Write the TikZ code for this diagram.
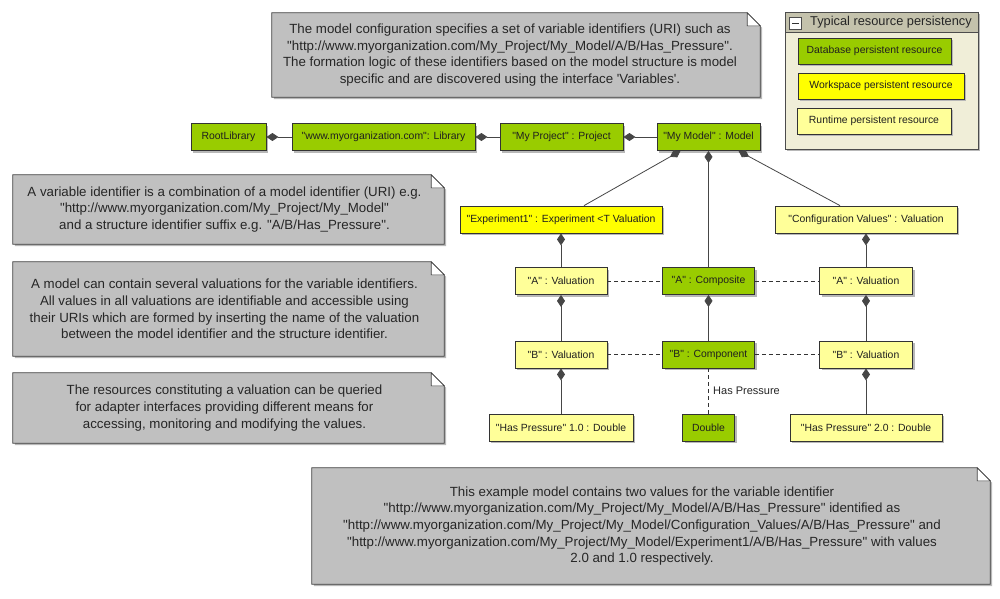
\documentclass[tikz,border=0pt]{standalone}
\usepackage{fontspec}
\newfontfamily\uifont{Liberation Sans}
\usetikzlibrary{arrows.meta,shadows,calc}
\pgfdeclarelayer{bg}
\pgfsetlayers{bg,main}
\definecolor{dbgreen}{RGB}{153,204,0}
\definecolor{wsyellow}{RGB}{255,255,0}
\definecolor{rtyellow}{RGB}{255,255,153}
\definecolor{notegray}{RGB}{192,192,192}
\definecolor{legbody}{RGB}{240,238,216}
\definecolor{leghead}{RGB}{196,194,172}
\definecolor{linegray}{RGB}{70,70,70}
\begin{document}
\begin{tikzpicture}[x=1pt,y=-1pt,
  boxshadow/.style={general shadow={fill=black!28, shadow xshift=2pt, shadow yshift=-2pt}},
  obj/.style={draw=black!80, line width=0.8pt, inner sep=0pt, minimum height=27pt,
    font=\uifont\fontsize{10.4}{12}\selectfont, text=black!88, boxshadow},
  db/.style={obj, fill=dbgreen},
  ws/.style={obj, fill=wsyellow},
  rt/.style={obj, fill=rtyellow},
  notebox/.style={inner sep=0pt, align=center, font=\uifont\fontsize{13.3}{16.6}\selectfont, text=black!85},
  notefold/.style={fill=notegray, draw=black!75, line width=0.8pt, boxshadow},
  comp/.style={draw=linegray, line width=0.8pt, {Diamond[length=12pt,width=8pt]}-},
  dep/.style={draw=black!80, line width=0.7pt, dash pattern=on 4pt off 3pt},
  lbl/.style={font=\uifont\fontsize{11}{13}\selectfont, text=black!85},
]
\useasboundingbox (0,0) rectangle (1000,598);

% ---------- notes (text nodes; frames drawn on the background layer) ----------
\node[notebox, minimum width=488pt, minimum height=84pt] (n0) at (510,55)
  {The model configuration specifies a set of variable identifiers (URI) such as\\
   "http://www.myorganization.com/My\_Project/My\_Model/A/B/Has\_Pressure".\\
   The formation logic of these identifiers based on the model structure is model\\
   specific and are discovered using the interface 'Variables'.};
\node[notebox, minimum width=431pt, minimum height=69pt] (n1) at (224.5,209.5)
  {A variable identifier is a combination of a model identifier (URI) e.g.\\
   "http://www.myorganization.com/My\_Project/My\_Model"\\
   and a structure identifier suffix e.g. "A/B/Has\_Pressure".};
\node[notebox, minimum width=431pt, minimum height=94pt] (n2) at (224.5,309)
  {A model can contain several valuations for the variable identifiers.\\
   All values in all valuations are identifiable and accessible using\\
   their URIs which are formed by inserting the name of the valuation\\
   between the model identifier and the structure identifier.};
\node[notebox, minimum width=431pt, minimum height=70pt] (n3) at (224.5,408)
  {The resources constituting a valuation can be queried\\
   for adapter interfaces providing different means for\\
   accessing, monitoring and modifying the values.};
\node[notebox, minimum width=678pt, minimum height=116pt] (n4) at (642,526)
  {This example model contains two values for the variable identifier\\
   "http://www.myorganization.com/My\_Project/My\_Model/A/B/Has\_Pressure" identified as\\
   "http://www.myorganization.com/My\_Project/My\_Model/Configuration\_Values/A/B/Has\_Pressure" and\\
   "http://www.myorganization.com/My\_Project/My\_Model/Experiment1/A/B/Has\_Pressure" with values\\
   2.0 and 1.0 respectively.};
\begin{pgfonlayer}{bg}
\fill[white] (0,0) rectangle (1000,598);
\foreach \n/\d in {n0/6pt,n1/4pt,n2/4pt,n3/4pt,n4/9pt}{
  \path[notefold] ([xshift=\d]\n.north west) -- ([xshift=\d-13pt]\n.north east)
     -- ([xshift=\d,yshift=-13pt]\n.north east)
     -- ([xshift=\d]\n.south east) -- ([xshift=\d]\n.south west) -- cycle;
  \filldraw[fill=white, draw=black!75, line width=0.6pt] ([xshift=\d-13pt]\n.north east)
     -- ([xshift=\d-13pt,yshift=-13pt]\n.north east) -- ([xshift=\d,yshift=-13pt]\n.north east) -- cycle;
}
\end{pgfonlayer}

% ---------- legend ----------
\node[draw=black!70, line width=0.8pt, fill=legbody, minimum width=193pt, minimum height=137pt,
      inner sep=0pt, boxshadow] (leg) at (881.5,80.5) {};
\node[draw=black!70, line width=0.8pt, fill=leghead, minimum width=193pt, minimum height=20pt,
      inner sep=0pt] (legh) at (881.5,22) {};
\node[anchor=west, inner sep=0pt, font=\uifont\fontsize{12.8}{14}\selectfont, text=black!85] (legt) at (810,22)
  {Typical resource persistency};
\node[draw=black!70, fill=white, minimum size=12pt, inner sep=0pt] (legicon) at (795.5,23) {};
\draw[black!80, line width=1pt] ([xshift=3pt]legicon.west) -- ([xshift=-3pt]legicon.east);
\node[db, minimum width=153pt, minimum height=26pt] (ldb) at (874.5,51) {Database persistent resource};
\node[ws, minimum width=166pt, minimum height=26pt] (lws) at (881,86) {Workspace persistent resource};
\node[rt, minimum width=154pt, minimum height=26pt] (lrt) at (874,121) {Runtime persistent resource};

% ---------- row 1 ----------
\node[db, minimum width=75pt]  (root)  at (228.5,137) {RootLibrary};
\node[db, minimum width=183pt] (lib)   at (383.5,137) {"www.myorganization.com": Library};
\node[db, minimum width=123pt] (proj)  at (561.5,137) {"My Project" : Project};
\node[db, minimum width=103pt] (model) at (708.5,137) {"My Model" : Model};

% ---------- row 2 ----------
\node[ws, minimum width=202pt] (exp)  at (561,219.5) {"Experiment1" : Experiment <T Valuation};
\node[rt, minimum width=182pt] (conf) at (866,219.5) {"Configuration Values" : Valuation};

% ---------- rows 3-5 ----------
\node[rt, minimum width=92pt] (av1)   at (561,281) {"A" : Valuation};
\node[db, minimum width=92pt] (acomp) at (708.5,281) {"A" : Composite};
\node[rt, minimum width=93pt] (av2)   at (866,281) {"A" : Valuation};
\node[rt, minimum width=92pt] (bv1)   at (561,354.5) {"B" : Valuation};
\node[db, minimum width=92pt] (bcomp) at (708.5,354.5) {"B" : Component};
\node[rt, minimum width=93pt] (bv2)   at (866,354.5) {"B" : Valuation};
\node[rt, minimum width=144pt] (hp1)  at (561,427.5) {"Has Pressure" 1.0 : Double};
\node[db, minimum width=52pt]  (dbl)  at (708.5,427.5) {Double};
\node[rt, minimum width=152pt] (hp2)  at (866,427.5) {"Has Pressure" 2.0 : Double};

% ---------- connectors ----------
\draw[comp] (root) -- (lib);
\draw[comp] (lib) -- (proj);
\draw[comp] (proj) -- (model);
\draw[comp] ([xshift=-28pt]model.south) -- ([xshift=23pt]exp.north);
\draw[comp] (model.south) -- (acomp.north);
\draw[comp] ([xshift=30pt]model.south) -- ([xshift=-26pt]conf.north);
\draw[comp] (exp) -- (av1);
\draw[comp] (av1) -- (bv1);
\draw[comp] (bv1) -- (hp1);
\draw[comp] (acomp) -- (bcomp);
\draw[comp] (conf) -- (av2);
\draw[comp] (av2) -- (bv2);
\draw[comp] (bv2) -- (hp2);
\draw[dep] (av1) -- (acomp);
\draw[dep] (acomp) -- (av2);
\draw[dep] (bv1) -- (bcomp);
\draw[dep] (bcomp) -- (bv2);
\draw[dep] (bcomp) -- node[lbl, right, xshift=1pt] {Has Pressure} (dbl);
\end{tikzpicture}
\end{document}
